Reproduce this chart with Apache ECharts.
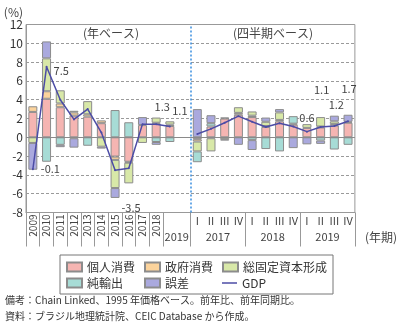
<!DOCTYPE html>
<html><head><meta charset="utf-8">
<script src="https://cdn.jsdelivr.net/npm/echarts@6/dist/echarts.min.js"></script>
<style>html,body{margin:0;padding:0;background:#fff}#c{width:400px;height:329px}</style>
</head><body><div id="c"></div>
<script>
// Categories: 11 annual slots, one empty gap slot, 12 quarterly slots
const categories = ['2009','2010','2011','2012','2013','2014','2015','2016','2017','2018','2019','gap',
  '2017Q1','2017Q2','2017Q3','2017Q4','2018Q1','2018Q2','2018Q3','2018Q4','2019Q1','2019Q2','2019Q3','2019Q4'];
const rotatedYearLabels = ['2009','2010','2011','2012','2013','2014','2015','2016','2017','2018','','',
  '','','','','','','','','','','',''];
const quarterLabels = ['','','','','','','','','','','','',
  'I','II','III','IV','I','II','III','IV','I','II','III','IV'];
// group labels on a 0..24 value scale (value = boundary position)
const groupLabels = {11:'2019', 14:'2017', 18:'2018', 22:'2019'};

const consumption  = [2.7, 4.1, 3.2, 2.3, 2.2, 1.5, -2.05, -2.6, 1.3, 1.45, 1.2, null, -0.2, 1.15, 2.0, 2.4, 2.15, 1.1, 1.7, 1.35, 1.0, 1.05, 1.25, 1.55];
const government   = [0.6, 0.8, 0.4, 0.35, 0.25, 0.3, -0.35, -0.1, 0, 0.1, 0.15, null, -0.25, -0.1, 0.1, 0.2, 0.15, 0.1, 0.15, 0.1, 0, 0.1, 0.15, 0.1];
const investment   = [-0.6, 3.5, 1.4, 0.17, 1.4, -1.0, -3.0, -2.2, -0.6, 0.55, 0.35, null, -1.05, -1.4, -0.2, 0.6, 0.45, 0.45, 0.8, 0, 0.4, 1.0, 0.3, 0];
const netExports   = [0, -2.6, -0.8, -0.1, -0.9, 0, 2.9, 1.6, 0, -0.5, -0.5, null, -1.15, 0.35, 0, 0, -0.3, -1.25, -1.5, 0.8, 0, -0.35, -1.3, -0.8];
const discrepancy  = [-2.85, 1.8, -0.25, -1.0, 0, -0.2, -1.05, 0, 0.85, -0.3, 0, null, 3.0, 0.85, -0.15, -0.8, -1.05, 0.45, 0.35, -1.15, -0.75, -0.35, 0.6, 0.75];
const gdp          = [-3.4, 7.5, 4.0, 1.9, 3.0, 0.5, -3.5, -3.3, 1.4, 1.4, 1.15, null, 0.35, 0.9, 1.55, 2.25, 1.65, 1.1, 1.5, 1.15, 0.6, 1.1, 1.2, 1.7];
const gdpLabelText = ['-0.1','7.5',null,null,null,null,'-3.5',null,null,'1.3','1.1',null,
  null,null,null,null,null,null,null,null,'0.6','1.1','1.2','1.7'];

const seriesNames = ['個人消費','政府消費','総固定資本形成','純輸出','誤差'];
const seriesData = [consumption, government, investment, netExports, discrepancy];
const colors = ['#f5b5b2','#fbd39c','#d8e8a8','#a7dcd6','#aaa9de'];

// label placement styling (offsets from point)
const labelPlace = {
  0: {position:'right', distance:7, offset:[0,0]},
  1: {position:'right', distance:6, offset:[0,4]},
  6: {position:'bottom', distance:5, offset:[16,26]},
  9: {position:'top', distance:5, offset:[6,-6]},
  10:{position:'top', distance:5, offset:[10,-4]},
  20:{position:'top', distance:5, offset:[0,-2]},
  21:{position:'top', distance:5, offset:[1,-26]},
  22:{position:'top', distance:5, offset:[2,-10]},
  23:{position:'top', distance:5, offset:[1,-21]}
};

const FONT = '"Noto Sans CJK JP", "Noto Sans", sans-serif';
const chart = echarts.init(document.getElementById('c'), null, {renderer:'canvas'});

// zero or missing contributions draw no segment
const barSeries = seriesNames.map((n, k) => ({
  name: n, type: 'bar', stack: 'total', barWidth: 9,
  xAxisIndex: 0, yAxisIndex: 0,
  itemStyle: {color: colors[k], borderColor: '#8c8c8c', borderWidth: 1},
  data: seriesData[k].map(v => (v === null || v === 0) ? '-' : v),
  markLine: k === 0 ? {silent:true, symbol:'none', label:{show:false},
    lineStyle:{type:'solid', color:'#8a8a8a', width:1}, data:[{yAxis:0}]} : undefined
}));

const gdpData = gdp.map((v, i) => {
  if (v === null) return '-';
  const t = gdpLabelText[i];
  if (!t) return v;
  const p = labelPlace[i];
  return {value: v, label: {show:true, formatter: t, position: p.position, distance: p.distance, offset: p.offset,
    fontSize: 11, color:'#444', fontFamily: FONT}};
});

const option = {
  animation: false,
  textStyle: {fontFamily: FONT},
  grid: {left: 26, right: 37, top: 24.5, bottom: 116.5, show: true, borderColor: '#999', borderWidth: 1},
  xAxis: [
    {type:'category', data: categories, position:'bottom',
     axisLine:{show:true, onZero:false, lineStyle:{color:'#999'}},
     axisTick:{show:true, length:34, interval:(i)=> (i<=10 || i===12 || i===16 || i===20), lineStyle:{color:'#999'}},
     axisLabel:{interval:0, rotate:90, margin:2, fontSize:10, color:'#444', formatter:(v,i)=>rotatedYearLabels[i]}},
    {type:'category', data: categories, position:'bottom',
     axisLine:{show:false, onZero:false}, axisTick:{show:false},
     axisLabel:{interval:0, margin:3, fontSize:11, color:'#444', formatter:(v,i)=>quarterLabels[i]}},
    {type:'value', min:0, max:24, interval:1, position:'bottom', offset:18,
     axisLine:{show:false, onZero:false}, axisTick:{show:false}, splitLine:{show:false},
     axisLabel:{margin:0, fontSize:11, color:'#444', lineHeight:13, formatter:(v)=>groupLabels[v]||''},
     name:'(年期)', nameLocation:'end', nameGap:10,
     nameTextStyle:{fontSize:12, color:'#444', verticalAlign:'top', lineHeight:13}}
  ],
  yAxis: [{type:'value', min:-8, max:12, interval:2,
    axisLine:{show:true, onZero:false, lineStyle:{color:'#999'}}, axisTick:{show:false},
    axisLabel:{fontSize:12, color:'#333', margin:3},
    splitLine:{show:true, lineStyle:{type:[3,2], color:'#9a9a9a'}},
    name:'(%)', nameLocation:'end', nameGap:6,
    nameTextStyle:{fontSize:12, color:'#444', align:'right', padding:[0,3,0,0]}}],
  legend: {
    left: 60, top: 255, width: 262, padding:[5,6,4,6], itemGap: 2,
    itemWidth: 15, itemHeight: 9, borderColor:'#777', borderWidth: 1,
    textStyle:{fontSize:12, color:'#333', lineHeight:14},
    data: [
      {name:'個人消費', icon:'rect', textStyle:{width:55}},
      {name:'政府消費', icon:'rect', textStyle:{width:55}},
      {name:'総固定資本形成', icon:'rect'},
      {name:'純輸出', icon:'rect', textStyle:{width:55}},
      {name:'誤差', icon:'rect', textStyle:{width:55}},
      {name:'GDP', icon:'path://M0,0 L30,0 L30,3 L0,3 Z'}
    ]
  },
  graphic: [
    {type:'text', left:83, top:27, style:{text:'(年ベース)', fontSize:12, fontFamily:FONT, fill:'#444'}},
    {type:'text', left:233, top:27, style:{text:'(四半期ベース)', fontSize:12, fontFamily:FONT, fill:'#444'}},
    {type:'text', left:5, top:295, style:{text:'備考：Chain Linked、1995 年価格ベース。前年比、前年同期比。', fontSize:10, fontFamily:FONT, fill:'#333'}},
    {type:'text', left:5, top:311, style:{text:'資料：ブラジル地理統計院、CEIC Database から作成。', fontSize:10, fontFamily:FONT, fill:'#333'}}
  ],
  series: [
    ...barSeries,
    {name:'GDP', type:'line', xAxisIndex:0, yAxisIndex:0, data: gdpData,
     symbol:'circle', symbolSize:2, showSymbol:true, connectNulls:false, z:5,
     itemStyle:{color:'#4c4ca6'}, lineStyle:{color:'#4c4ca6', width:1.5}},
    {name:'divider', type:'line', xAxisIndex:2, yAxisIndex:0, data:[], z:6,
     markLine:{silent:true, symbol:'none', label:{show:false},
       lineStyle:{type:[2,2], color:'#3a8ee0', width:1.5}, data:[{xAxis:12}]}}
  ]
};
chart.setOption(option);
</script></body></html>
